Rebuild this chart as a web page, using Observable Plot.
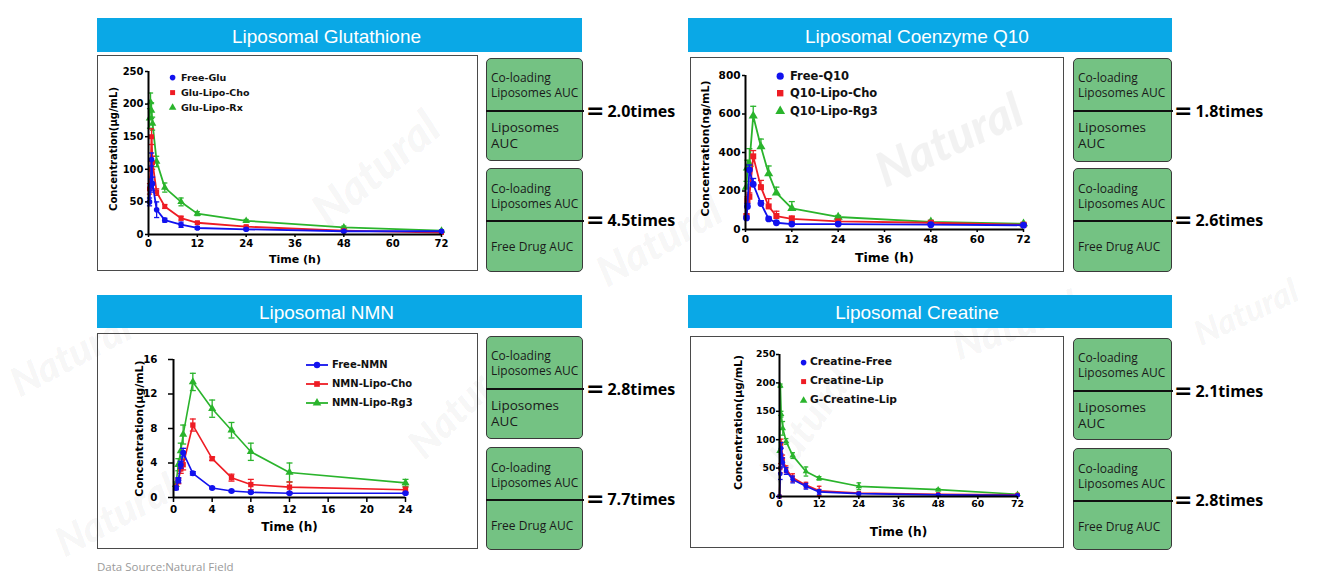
<!DOCTYPE html>
<html><head><meta charset="utf-8">
<script src="https://cdn.jsdelivr.net/npm/d3@7"></script>
<script src="https://cdn.jsdelivr.net/npm/@observablehq/plot@0.6"></script>
<style>
html,body{margin:0;padding:0;background:#fff;}
#page{position:relative;width:1343px;height:580px;overflow:hidden;font-family:"Liberation Sans",Arial,sans-serif;}
.abs{position:absolute;}
.title{background:#0aa8e6;color:#fff;font-size:19px;display:flex;align-items:center;justify-content:center;z-index:2;box-sizing:border-box;padding-right:26px;padding-top:3px;}
.chartbox{border:1px solid #4a4a4a;box-sizing:border-box;z-index:2;}
.plotwrap{z-index:3;}
.gbox{background:#74c283;border:1.5px solid #3a3a3a;border-radius:5px;box-sizing:border-box;z-index:2;font-family:"Open Sans",sans-serif;color:#1a1a1a;overflow:visible;}
.gbox .t{position:absolute;left:4px;white-space:nowrap;}
.gbox .div{position:absolute;left:-1px;right:-2px;height:2px;background:#111;}
.eq{display:flex;align-items:center;z-index:2;white-space:nowrap;}
.eq .s{font-family:"DejaVu Sans";font-weight:bold;font-size:22px;line-height:22px;margin-right:3px;}
.eq .v{font-family:"Open Sans";font-weight:bold;font-size:16px;}
.leg{z-index:4;font-family:"DejaVu Sans";font-weight:bold;color:#111;white-space:nowrap;}
.wm{z-index:1;font-family:"Lato","Open Sans",sans-serif;font-weight:900;font-style:italic;color:rgba(0,0,0,0.05);white-space:nowrap;transform-origin:center;}
.src{font-family:"Open Sans",sans-serif;font-size:11.5px;color:#9a9a9a;z-index:2;}
</style>
</head><body><div id="page"></div>
<script>
// ---------------- DATA ----------------
const panelTitles = ["Liposomal Glutathione", "Liposomal Coenzyme Q10", "Liposomal NMN", "Liposomal Creatine"];
const ratioTop = ["2.0times", "1.8times", "2.8times", "2.1times"];
const ratioBottom = ["4.5times", "2.6times", "7.7times", "2.8times"];
const colors = ["#1212ee", "#ee1c24", "#2ab42c"];
const symbols = ["circle", "square", "triangle"];

// Glutathione
const gluNames = ["Free-Glu", "Glu-Lipo-Cho", "Glu-Lipo-Rx"];
const gluTime = [0.25, 0.5, 0.75, 1, 2, 4, 8, 12, 24, 48, 72];
const gluFree = [50, 75, 115, 78, 38, 22, 15, 10, 8, 5, 5];
const gluFreeErr = [6, 10, 10, 10, 12, 3, 4, 2, 2, 1, 1];
const gluCho = [70, 100, 150, 110, 65, 43, 25, 18, 12, 6, 3];
const gluChoErr = [8, 12, 12, 10, 5, 3, 3, 2, 2, 1, 1];
const gluRx = [178, 203, 190, 170, 112, 72, 50, 32, 21, 11, 6];
const gluRxErr = [15, 14, 12, 10, 8, 7, 6, 3, 2, 2, 1];
const gluXTicks = [0, 12, 24, 36, 48, 60, 72];
const gluYTicks = [0, 50, 100, 150, 200, 250];

// Coenzyme Q10
const q10Names = ["Free-Q10", "Q10-Lipo-Cho", "Q10-Lipo-Rg3"];
const q10Time = [0.25, 0.5, 1, 2, 4, 6, 8, 12, 24, 48, 72];
const q10Free = [60, 120, 310, 235, 135, 55, 35, 28, 28, 25, 22];
const q10FreeErr = [10, 15, 25, 30, 15, 10, 5, 5, 5, 5, 4];
const q10Cho = [70, 150, 170, 380, 220, 120, 70, 55, 42, 35, 25];
const q10ChoErr = [10, 20, 20, 30, 35, 40, 25, 15, 8, 6, 5];
const q10Rg3 = [220, 320, 340, 590, 430, 290, 190, 110, 65, 40, 30];
const q10Rg3Err = [30, 40, 80, 50, 40, 40, 30, 35, 8, 8, 5];
const q10XTicks = [0, 12, 24, 36, 48, 60, 72];
const q10YTicks = [0, 200, 400, 600, 800];

// NMN
const nmnNames = ["Free-NMN", "NMN-Lipo-Cho", "NMN-Lipo-Rg3"];
const nmnTime = [0.25, 0.5, 0.75, 1, 2, 4, 6, 8, 12, 24];
const nmnFree = [1.1, 2.0, 3.8, 5.2, 2.8, 1.1, 0.75, 0.6, 0.5, 0.5];
const nmnFreeErr = [0.2, 0.3, 0.4, 0.5, 0.2, 0.1, 0.1, 0.1, 0.1, 0.1];
const nmnCho = [1.2, 1.9, 3.3, 3.8, 8.4, 4.5, 2.3, 1.5, 1.2, 0.9];
const nmnChoErr = [0.2, 0.3, 0.5, 0.6, 0.7, 0.2, 0.4, 0.6, 0.6, 0.3];
const nmnRg3 = [1.5, 3.8, 5.4, 7.3, 13.4, 10.3, 7.8, 5.3, 2.9, 1.7];
const nmnRg3Err = [0.3, 0.7, 0.9, 1.1, 1.0, 1.0, 0.9, 1.0, 1.1, 0.4];
const nmnXTicks = [0, 4, 8, 12, 16, 20, 24];
const nmnYTicks = [0, 4, 8, 12, 16];

// Creatine
const creNames = ["Creatine-Free", "Creatine-Lip", "G-Creatine-Lip"];
const creTime = [0, 0.25, 0.5, 1, 2, 4, 8, 12, 24, 48, 72];
const creFree = [0, 40, 85, 60, 45, 30, 18, 8, 5, 3, 2];
const creFreeErr = [0, 10, 10, 8, 6, 6, 5, 4, 2, 1, 1];
const creLip = [0, 50, 93, 65, 48, 33, 20, 10, 6, 4, 3];
const creLipErr = [0, 8, 8, 8, 6, 7, 5, 8, 2, 1, 1];
const creG = [80, 195, 145, 120, 97, 72, 44, 32, 18, 12, 4];
const creGErr = [0, 3, 5, 12, 5, 5, 8, 3, 6, 2, 1];
const creXTicks = [0, 12, 24, 36, 48, 60, 72];
const creYTicks = [0, 50, 100, 150, 200, 250];

const yLabels = ["Concentration(μg/mL)", "Concentration(ng/mL)", "Concentration(μg/mL)", "Concentration(μg/mL)"];
const xLabel = "Time (h)";
const sourceText = "Data Source:Natural Field";

// ---------------- LAYOUT ----------------
const page = document.getElementById("page");
function el(cls, css, html) {
  const d = document.createElement("div");
  d.className = "abs " + cls;
  Object.assign(d.style, css);
  if (html !== undefined) d.innerHTML = html;
  page.appendChild(d);
  return d;
}

const cap = {draw(ctx, size) { const r = Math.sqrt(size / Math.PI); ctx.moveTo(-r, 0); ctx.lineTo(r, 0); }};

const charts = [
  {time: gluTime, series: [[gluFree, gluFreeErr], [gluCho, gluChoErr], [gluRx, gluRxErr]], names: gluNames,
   xTicks: gluXTicks, yTicks: gluYTicks,
   box: {left: 97, top: 55, w: 381, h: 216}, m: {l: 51, r: 37, t: 16, b: 37},
   tick: 10, tickSize: 3, xPad: 2, yPad: 2, xl: 11, yl: 10, xlDy: 25, ylDx: -35, ylDy: -4, r: 2.8, capR: 2.6, lw: 1.8,
   leg: {mx: 173, tx: 181, ys: [77.5, 93, 108], fs: 9.5, sr: 2.8, line: 0}},
  {time: q10Time, series: [[q10Free, q10FreeErr], [q10Cho, q10ChoErr], [q10Rg3, q10Rg3Err]], names: q10Names, upOnly: true,
   xTicks: q10XTicks, yTicks: q10YTicks,
   box: {left: 690, top: 57, w: 374, h: 215}, m: {l: 55, r: 41, t: 18, b: 43},
   tick: 10.5, tickSize: 3, xPad: 3, yPad: 2, xl: 12.5, yl: 11, xlDy: 28, ylDx: -40, ylDy: -4, r: 3.4, capR: 3, lw: 1.8,
   leg: {mx: 780, tx: 790, ys: [76.5, 93.5, 111], fs: 11.5, sr: 3.6, line: 0}},
  {time: nmnTime, series: [[nmnFree, nmnFreeErr], [nmnCho, nmnChoErr], [nmnRg3, nmnRg3Err]], names: nmnNames,
   xTicks: nmnXTicks, yTicks: nmnYTicks,
   box: {left: 97, top: 333, w: 381, h: 216}, m: {l: 76, r: 73, t: 26, b: 52},
   tick: 10.3, tickSize: 5, xPad: 3, yPad: 11, xl: 12, yl: 11, xlDy: 30, ylDx: -34, ylDy: 0, r: 3, capR: 3, lw: 1.6,
   leg: {mx: 316.5, tx: 332, ys: [365, 384.3, 403.3], fs: 10, sr: 3.2, line: 22}},
  {time: creTime, series: [[creFree, creFreeErr], [creLip, creLipErr], [creG, creGErr]], names: creNames,
   xTicks: creXTicks, yTicks: creYTicks,
   box: {left: 690, top: 336, w: 374, h: 212}, m: {l: 89, r: 47, t: 18, b: 52},
   tick: 9.3, tickSize: 3, xPad: 1, yPad: 1, xl: 12.2, yl: 10.9, xlDy: 36, ylDx: -41, ylDy: -3, r: 2.4, capR: 2.3, lw: 1.7,
   leg: {mx: 803.5, tx: 810, ys: [362.7, 381.7, 400.7], fs: 10.7, sr: 2.8, line: 0}}
];

const panels = [
  {title: {left: 97, top: 18, w: 485, h: 34}, gx: 486, gw: 97, g1: 58, g2: 168, gh1: 103, gh2: 104, eqx: 586},
  {title: {left: 688, top: 18, w: 484, h: 34}, gx: 1073, gw: 99, g1: 58, g2: 168, gh1: 104, gh2: 104, eqx: 1174},
  {title: {left: 97, top: 295, w: 485, h: 33}, gx: 486, gw: 97, g1: 336, g2: 447, gh1: 103, gh2: 103, eqx: 586},
  {title: {left: 688, top: 295, w: 484, h: 33}, gx: 1073, gw: 99, g1: 338, g2: 448, gh1: 102, gh2: 102, eqx: 1174}
];

// faint watermarks
const wms = [[870, 110, 48, -25], [300, 140, 46, -40], [590, 215, 42, -30], [950, 300, 40, -20],
  [5, 330, 40, -28], [395, 380, 40, -45], [50, 490, 40, -28], [740, 400, 40, -55], [1190, 290, 34, -25]];
wms.forEach(([x, y, s, r]) => {
  el("wm", {left: x + "px", top: y + "px", fontSize: s + "px", transform: `rotate(${r}deg)`}, "Natural");
});

panels.forEach((p, i) => {
  el("title", {left: p.title.left + "px", top: p.title.top + "px", width: p.title.w + "px", height: p.title.h + "px"}, panelTitles[i]);
  const b1 = el("gbox", {left: p.gx + "px", top: p.g1 + "px", width: p.gw + "px", height: p.gh1 + "px"});
  b1.innerHTML = `<div class="t" style="top:11px;font-size:12px;line-height:15px">Co-loading<br>Liposomes AUC</div>
    <div class="div" style="top:51px"></div>
    <div class="t" style="top:61px;font-size:13.5px;line-height:15.5px">Liposomes<br>AUC</div>`;
  const b2 = el("gbox", {left: p.gx + "px", top: p.g2 + "px", width: p.gw + "px", height: p.gh2 + "px"});
  b2.innerHTML = `<div class="t" style="top:12px;font-size:12px;line-height:15px">Co-loading<br>Liposomes AUC</div>
    <div class="div" style="top:51px"></div>
    <div class="t" style="top:70px;font-size:12px;line-height:16px">Free Drug AUC</div>`;
  el("eq", {left: p.eqx + "px", top: (p.g1 + 53 - 15) + "px", height: "30px"}, `<span class="s">=</span><span class="v">${ratioTop[i]}</span>`);
  el("eq", {left: p.eqx + "px", top: (p.g2 + 52 - 15) + "px", height: "30px"}, `<span class="s">=</span><span class="v">${ratioBottom[i]}</span>`);
});

charts.forEach((c, ci) => {
  el("chartbox", {left: c.box.left + "px", top: c.box.top + "px", width: c.box.w + "px", height: c.box.h + "px"});
  const marks = [];
  const order = [2, 1, 0];
  order.forEach(si => {
    const [vals, errs] = c.series[si];
    const rows = c.time.map((t, i) => ({t, v: vals[i], e: errs[i]}));
    const er = rows.filter(d => d.e > 0);
    const col = colors[si];
    marks.push(Plot.ruleX(er, {x: "t", y1: d => c.upOnly ? d.v : Math.max(0, d.v - d.e), y2: d => d.v + d.e, stroke: col, strokeWidth: 1.3}));
    marks.push(Plot.dot(er, {x: "t", y: d => d.v + d.e, symbol: cap, r: c.capR, stroke: col, strokeWidth: 1.3}));
    if (!c.upOnly) marks.push(Plot.dot(er.filter(d => d.v - d.e > 0), {x: "t", y: d => d.v - d.e, symbol: cap, r: c.capR, stroke: col, strokeWidth: 1.3}));
    marks.push(Plot.line(rows, {x: "t", y: "v", stroke: col, strokeWidth: c.lw}));
    marks.push(Plot.dot(rows, {x: "t", y: "v", symbol: symbols[si], r: c.r, fill: col}));
  });
  marks.push(Plot.ruleY([0], {stroke: "#000", strokeWidth: 2}));
  marks.push(Plot.ruleX([0], {stroke: "#000", strokeWidth: 2}));
  marks.push(Plot.axisX({ticks: c.xTicks, tickSize: c.tickSize, tickPadding: c.xPad, fontSize: c.tick, fontWeight: "bold", label: null, strokeWidth: 1.5, tickFormat: d => d}));
  marks.push(Plot.axisY({ticks: c.yTicks, tickSize: c.tickSize, tickPadding: c.yPad, fontSize: c.tick, fontWeight: "bold", label: null, strokeWidth: 1.5, tickFormat: d => d}));
  marks.push(Plot.text([xLabel], {text: d => d, frameAnchor: "bottom", lineAnchor: "middle", textAnchor: "middle", dy: c.xlDy, fontSize: c.xl, fontWeight: "bold", fill: "#000"}));
  marks.push(Plot.text([yLabels[ci]], {text: d => d, frameAnchor: "left", textAnchor: "middle", lineAnchor: "middle", rotate: -90, dx: c.ylDx, dy: c.ylDy, fontSize: c.yl, fontWeight: "bold", fill: "#000"}));
  const svg = Plot.plot({
    width: c.box.w, height: c.box.h,
    marginLeft: c.m.l, marginRight: c.m.r, marginTop: c.m.t, marginBottom: c.m.b,
    x: {domain: [0, c.xTicks[c.xTicks.length - 1]]},
    y: {domain: [0, c.yTicks[c.yTicks.length - 1]]},
    style: {fontFamily: "DejaVu Sans", fontWeight: "bold", color: "#000", background: "transparent", overflow: "visible"},
    marks
  });
  const w = el("plotwrap", {left: c.box.left + "px", top: c.box.top + "px", width: c.box.w + "px", height: c.box.h + "px"});
  w.appendChild(svg);
  // legend
  const L = c.leg;
  c.names.forEach((name, si) => {
    const half = Math.max(L.sr * 2, L.line / 2) + 2;
    const path = d3.symbol(d3["symbol" + symbols[si][0].toUpperCase() + symbols[si].slice(1)], L.sr * L.sr * Math.PI)();
    const lineSvg = L.line ? `<line x1="${half - L.line / 2}" x2="${half + L.line / 2}" y1="${half}" y2="${half}" stroke="${colors[si]}" stroke-width="1.8"/>` : "";
    el("leg", {left: (L.mx - half) + "px", top: (L.ys[si] - half) + "px", width: (2 * half) + "px", height: (2 * half) + "px"},
      `<svg width="${2 * half}" height="${2 * half}">${lineSvg}<path d="${path}" transform="translate(${half},${half})" fill="${colors[si]}"/></svg>`);
    el("leg", {left: L.tx + "px", top: (L.ys[si] - L.fs * 0.7) + "px", fontSize: L.fs + "px", lineHeight: (L.fs * 1.4) + "px"}, name);
  });
});

el("src", {left: "97px", top: "559px"}, sourceText);
</script></body></html>
